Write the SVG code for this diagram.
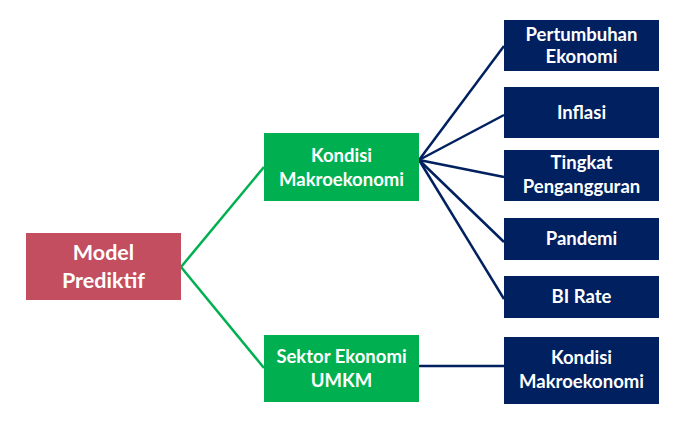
<svg xmlns="http://www.w3.org/2000/svg" width="697" height="435" viewBox="0 0 697 435">
<style>
.t{font-family:Lato,"Open Sans","Liberation Sans",sans-serif;font-weight:bold;fill:#fff;text-anchor:middle}
.s{font-size:18.5px}
.b{font-size:21.5px}
.red{fill:#C24E60}
.grn{fill:#00B050}
.nav{fill:#002060}
.cg{stroke:#00B050;stroke-width:2.5;fill:none}
.cn{stroke:#002060;stroke-width:2.5;fill:none}
</style>
<rect width="697" height="435" fill="#fff"/>
<g id="connectors">
<line class="cg" x1="181" y1="267" x2="264" y2="167"/>
<line class="cg" x1="181" y1="267" x2="264" y2="368"/>
<line class="cn" x1="419" y1="160" x2="504" y2="46"/>
<line class="cn" x1="419" y1="160" x2="504" y2="115"/>
<line class="cn" x1="419" y1="160" x2="504" y2="177"/>
<line class="cn" x1="419" y1="160" x2="504" y2="242"/>
<line class="cn" x1="419" y1="160" x2="504" y2="299"/>
<line class="cn" x1="419" y1="366" x2="504" y2="366"/>
</g>
<g id="model">
<rect class="red" x="26" y="233" width="155" height="67"/>
<text class="t b" x="103.5" y="260">Model</text>
<text class="t b" x="103.5" y="288">Prediktif</text>
</g>
<g id="kondisi">
<rect class="grn" x="264" y="133" width="155" height="68"/>
<text class="t s" x="341.5" y="162">Kondisi</text>
<text class="t s" x="341.5" y="186">Makroekonomi</text>
</g>
<g id="sektor">
<rect class="grn" x="264" y="335" width="155" height="67"/>
<text class="t s" x="341.5" y="363">Sektor Ekonomi</text>
<text class="t s" x="341.5" y="387">UMKM</text>
</g>
<g id="pertumbuhan">
<rect class="nav" x="504" y="20" width="155" height="51"/>
<text class="t s" x="581.5" y="41">Pertumbuhan</text>
<text class="t s" x="581.5" y="63">Ekonomi</text>
</g>
<g id="inflasi">
<rect class="nav" x="504" y="87" width="155" height="51"/>
<text class="t s" x="581.5" y="119">Inflasi</text>
</g>
<g id="tingkat">
<rect class="nav" x="504" y="150" width="155" height="51"/>
<text class="t s" x="581.5" y="169">Tingkat</text>
<text class="t s" x="581.5" y="193">Pengangguran</text>
</g>
<g id="pandemi">
<rect class="nav" x="504" y="218" width="155" height="42"/>
<text class="t s" x="581.5" y="245">Pandemi</text>
</g>
<g id="birate">
<rect class="nav" x="504" y="276" width="155" height="42"/>
<text class="t s" x="581.5" y="303">BI Rate</text>
</g>
<g id="kondisi2">
<rect class="nav" x="504" y="337" width="155" height="67"/>
<text class="t s" x="581.5" y="364">Kondisi</text>
<text class="t s" x="581.5" y="388">Makroekonomi</text>
</g>
</svg>
